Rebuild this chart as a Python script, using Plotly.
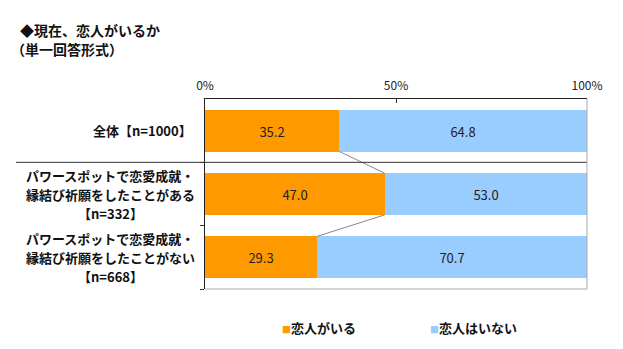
import plotly.graph_objects as go

# Survey groups (top to bottom); "<br>" separates label lines
groups = [
    "全体【n=1000】",
    "パワースポットで恋愛成就・<br>縁結び祈願をしたことがある<br>【n=332】",
    "パワースポットで恋愛成就・<br>縁結び祈願をしたことがない<br>【n=668】",
]
has_partner = [35.2, 47.0, 29.3]
no_partner = [64.8, 53.0, 70.7]
series_names = ["恋人がいる", "恋人はいない"]
series_colors = ["#FF9900", "#99CCFF"]
x_ticks = [0, 50, 100]
x_tick_labels = ["0%", "50%", "100%"]

JP = "Noto Sans CJK JP"
BAR_W = 0.66
pos = list(range(len(groups)))

# plot area in pixels
L, R, T, B = 205, 587, 99, 289
PW, PH = R - L, B - T


def px_x(x):
    return (x - L) / PW


def px_y(y):
    return (B - y) / PH


fig = go.Figure()
for name, vals, col in zip(series_names, [has_partner, no_partner], series_colors):
    fig.add_trace(go.Bar(
        y=pos, x=vals, name=name, orientation="h",
        marker=dict(color=col, line=dict(width=0)),
        width=BAR_W,
        text=[f"{v:.1f}" for v in vals],
        textposition="inside", insidetextanchor="middle",
        textfont=dict(family=JP, size=13, color="#222222"),
        hoverinfo="skip", showlegend=False,
    ))

shapes = []
# connector lines between the ends of the orange segments
for i in range(len(groups) - 1):
    shapes.append(dict(
        type="line", xref="x", yref="y",
        x0=has_partner[i], y0=i + BAR_W / 2,
        x1=has_partner[i + 1], y1=i + 1 - BAR_W / 2,
        line=dict(color="#888888", width=1),
    ))
# separator between the overall row and the sub-groups
shapes.append(dict(type="line", xref="paper", yref="y",
                   x0=px_x(16), x1=1, y0=0.5, y1=0.5,
                   line=dict(color="#333333", width=1)))
# right and bottom frame
shapes.append(dict(type="line", xref="paper", yref="paper",
                   x0=1, x1=1, y0=0, y1=1, line=dict(color="#AAAAAA", width=1)))
shapes.append(dict(type="line", xref="paper", yref="paper",
                   x0=0, x1=1, y0=0, y1=0, line=dict(color="#AAAAAA", width=1)))

title_font = dict(family=JP, size=14, color="#111111", weight="bold")
annotations = [
    dict(text="◆現在、恋人がいるか", xref="paper", yref="paper",
         x=px_x(18), y=px_y(30), xanchor="left", yanchor="middle",
         showarrow=False, font=title_font),
    dict(text="（単一回答形式）", xref="paper", yref="paper",
         x=px_x(9), y=px_y(49), xanchor="left", yanchor="middle",
         showarrow=False, font=title_font),
]

# category labels, one annotation per line
label_font = dict(family=JP, size=13, color="#111111", weight="bold")
LINE_H = 19
for i, g in enumerate(groups):
    lines = g.split("<br>")
    n = len(lines)
    for k, line in enumerate(lines):
        if n == 1:
            xa, xp = "right", px_x(194)
        else:
            xa, xp = "center", px_x(110)
        annotations.append(dict(
            text=line, xref="paper", yref="y", x=xp, y=i,
            yshift=((n - 1) / 2 - k) * LINE_H,
            xanchor=xa, yanchor="middle", showarrow=False, font=label_font,
        ))

# legend: small coloured square followed by the series name
legend_x = [280, 428]
for name, col, lx in zip(series_names, series_colors, legend_x):
    annotations.append(dict(
        text=f"<span style='color:{col};font-size:9px'>■</span>{name}",
        xref="paper", yref="paper", x=px_x(lx), y=px_y(327),
        xanchor="left", yanchor="middle", showarrow=False,
        font=dict(family=JP, size=13, color="#111111", weight="bold"),
    ))

fig.update_layout(
    width=623, height=349,
    margin=dict(l=L, r=623 - R, t=T, b=349 - B),
    paper_bgcolor="white", plot_bgcolor="white",
    barmode="stack", bargap=0,
    showlegend=False,
    xaxis=dict(
        range=[0, 100], side="top", tickvals=x_ticks, ticktext=x_tick_labels,
        ticks="inside", ticklen=4, tickcolor="#333333",
        ticklabelstandoff=3,
        showline=True, linecolor="#222222", linewidth=1,
        showgrid=False, zeroline=False,
        tickfont=dict(family=JP, size=12, color="#222222"),
    ),
    yaxis=dict(
        range=[len(groups) - 0.5, -0.5],
        tickvals=[i + 0.5 for i in range(len(groups))],
        showticklabels=False, ticks="outside", ticklen=4, tickcolor="#333333",
        showline=True, linecolor="#222222", linewidth=1,
        showgrid=False, zeroline=False,
    ),
    shapes=shapes,
    annotations=annotations,
    font=dict(family=JP),
)

fig.write_html("out.html")
